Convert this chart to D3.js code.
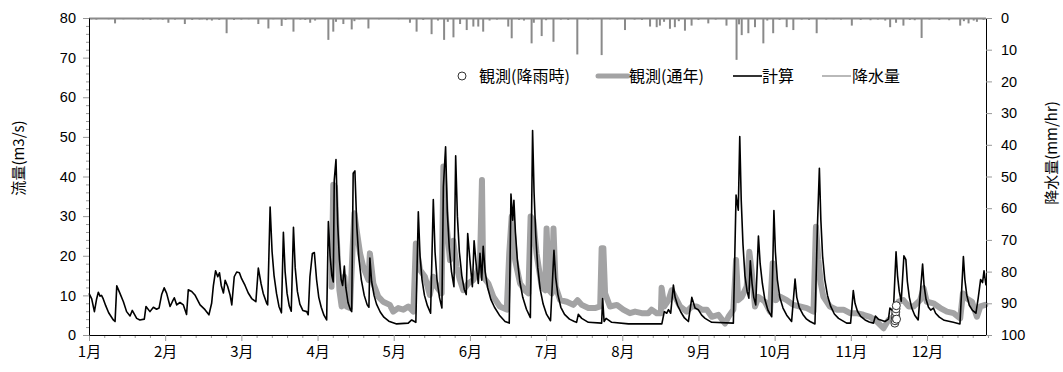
<!DOCTYPE html>
<html><head><meta charset="utf-8">
<script src="https://cdn.jsdelivr.net/npm/d3@7"></script>
<style>
html,body{margin:0;padding:0;background:#fff;}
text{font-family:"Liberation Sans","Noto Sans CJK JP",sans-serif;}
.cjk{font-family:"Noto Sans CJK JP","Liberation Sans",sans-serif;}
</style></head>
<body><svg id="c" width="1063" height="372"></svg>
<script>
// ---- data (x = day of year) ----
const monthLabels = ["1月","2月","3月","4月","5月","6月","7月","8月","9月","10月","11月","12月"];
const monthTicks = [0,31,62,93,124,155,186,217,248,279,310,341];
const flowTicks = [0,10,20,30,40,50,60,70,80];
const rainTicks = [0,10,20,30,40,50,60,70,80,90,100];
const legendLabels = ["観測(降雨時)","観測(通年)","計算","降水量"];

const calc = [[0,10.5],[1.1,9.1],[2.2,5.9],[3.1,9.1],[3.8,10.8],[4.5,9.8],[5.1,10],[5.8,9.1],[6.8,7.4],[8,5.6],[9.9,3.8],[10.6,3.4],[11.3,12.4],[12.6,10.5],[14,8.4],[15.3,5.9],[16.7,4.8],[17.6,6.2],[19.4,4.2],[20.7,3.8],[22.5,4],[23.2,7.2],[24.8,5.9],[26.2,7],[27.5,6.5],[28.5,6.8],[29.6,10.3],[30.6,11.9],[31.6,10.5],[33,7.2],[33.9,8.4],[34.7,9.4],[35.7,7.6],[37,8.2],[38.4,7.6],[39.7,5.2],[40.4,11.4],[41.8,11],[43.1,10.1],[45.2,7.6],[47.2,6.4],[48.8,5.1],[49.9,8],[50.6,12.4],[51.5,16.2],[52.4,14.7],[53.1,15.7],[53.8,12.5],[54.7,10.6],[55.4,13.8],[56.4,12.3],[57.4,10.1],[58.1,7.6],[59.1,14.7],[60.1,15.9],[61.2,15.7],[62.1,14.2],[63.5,12.5],[64.8,10.6],[66.2,9.2],[67.9,8.4],[68.9,16.9],[70,13],[70.9,10.5],[72.3,8],[72.7,7.6],[73.7,32.3],[74.5,21],[75.3,15],[76.3,10.5],[77.3,7.2],[78.3,5.6],[79.1,25.9],[79.8,16],[80.6,10.5],[81.5,7.3],[82.3,6],[83.2,27.2],[83.9,17],[84.8,11],[85.8,7.8],[87,6.2],[88.6,5.9],[89.2,5.1],[89.9,14.7],[90.9,20.6],[91.7,20.8],[92.6,14],[93.5,9.5],[94.5,7],[95.6,5],[96.7,3.8],[97.4,28.6],[98.1,20],[98.8,15],[99.4,13.4],[99.8,39.1],[100.5,44.3],[101.2,28],[101.9,19],[102.6,14],[103.2,12.5],[103.9,17.4],[104.5,12],[105.4,8.2],[106.3,6.5],[106.9,5.9],[107.5,40.8],[108.2,41.4],[109,27],[109.8,19.5],[110.8,14],[112,10],[113.2,7.6],[113.9,7],[114.3,19.4],[115,13.5],[116,10],[117,7.8],[118.5,5.8],[120,4.5],[122,3.5],[125.2,2.8],[129.9,3],[131.3,3.8],[133,3.2],[134,31.1],[134.7,20],[135.5,14],[136.5,10],[137.7,7.4],[139,5.5],[140.1,34.2],[140.8,21],[141.6,14],[142.6,9.5],[143.6,6.8],[144.2,37.4],[145.1,47.5],[145.8,31],[146.6,22],[147.5,16],[148.5,12.2],[149.2,45.2],[149.9,30],[150.7,21],[151.7,15],[152.7,11.5],[153.5,10.2],[154.1,25.6],[155,18.9],[156,12.2],[156.7,23.8],[157.5,18.1],[158.4,13],[159.1,20.6],[159.8,13.8],[160.4,22.4],[161.2,16],[162.2,12],[163.5,9],[165,7],[167,5],[169.3,3.4],[171,3],[171.7,35.6],[172.4,29],[172.9,34],[173.5,26],[174.3,19],[175.3,13.5],[176.5,9.5],[178,6.5],[179.6,4.4],[180.5,51.6],[181.1,36],[181.8,25],[182.6,17],[183.6,11.5],[184.8,7.8],[186.2,5.2],[187.8,3.6],[189.2,21.4],[189.9,14.5],[190.8,10.2],[192,7],[193.5,5.2],[195.5,4],[197.5,3.4],[198.4,3.2],[199.1,5.2],[200.5,4.2],[203.2,3.2],[208.6,3],[209,9.2],[209.6,3.4],[210.4,4.2],[212.7,3.2],[219.5,2.8],[233.1,2.8],[234.1,5.9],[235.1,5.5],[235.8,6.4],[236.7,5.5],[237.8,12.6],[238.5,9.5],[239.5,7.5],[240.8,5.8],[242.3,4.3],[243.9,3.4],[245.3,9.5],[246.6,6.8],[247.9,6.4],[249.3,5],[250.7,4.2],[253.4,3.2],[262.2,3],[263.3,35.3],[264.2,31.5],[264.8,50.1],[265.4,34],[266.1,23],[266.9,15],[267.8,11],[268.5,9.3],[269.1,18.7],[269.8,13],[270.5,9.5],[271.3,7.6],[272.4,25],[273.1,18],[274,13],[275,9],[276.3,6.2],[277.8,4.6],[278.7,31.4],[279.3,21],[280.1,14],[281.1,9.5],[282.4,6.8],[283.9,5],[285.9,3.4],[287.3,14.1],[288,9.5],[289,7],[290.5,5.2],[292,4],[293.4,3.4],[295.4,2.8],[296.4,27.3],[297.2,42.1],[297.8,29],[298.5,20],[299.4,14],[300.5,10],[301.8,7.2],[303.3,5.3],[305,4.2],[308.3,3],[309.9,3],[311,11.2],[311.7,8],[312.7,6],[314,4.7],[315.8,3.8],[317.5,3.3],[319.2,3],[320,4.8],[321.2,4],[323.9,3.4],[325.3,4],[325.9,6.8],[327.3,5.9],[328.4,21],[329,15],[329.7,11],[330.5,8.5],[331.6,20],[332.4,19],[333,13.5],[333.8,9.5],[334.8,6.8],[336,5],[337.4,3.8],[339.2,17.9],[339.8,12.5],[340.6,9],[341.6,7],[342.5,6.3],[343.6,6.8],[344.5,5.5],[346,4.5],[348,3.7],[351.7,3.2],[354.4,2.8],[355.8,19.8],[356.4,14],[357.2,10],[358.2,7.5],[359.5,6.2],[360.9,5.5],[361.8,9.2],[362.8,14],[363.6,13.2],[364.2,16.2],[365,12.5]];

const obsYear = [[98.7,12.2],[99.4,37.9],[100.1,37.4],[100.8,24.8],[101.9,11.3],[102.8,7.2],[103.9,14.7],[104.8,7.2],[106.2,6.8],[107.3,22.3],[108,30.7],[108.9,26.5],[110.3,20.6],[111.6,17.2],[113.7,13.9],[114.3,20.6],[115.7,13],[117.7,9.7],[119.7,8.4],[122.4,7.6],[123.8,5.9],[125.8,6.8],[127.9,6.4],[129.9,7.2],[132,5.9],[133,23.1],[134.7,16.4],[136.7,14.7],[138.7,10.1],[140.1,14.7],[141.5,12.2],[143.5,10.5],[144.2,42.5],[145.3,29],[146.9,18.9],[148.2,23.8],[149.6,17.2],[150.9,13.9],[152.3,11.3],[154.3,13],[156.4,13.9],[157.7,15.5],[159.1,18.1],[159.9,39.1],[160.4,14.7],[162.5,13],[164.5,9.7],[167.2,7.2],[170,6.4],[171,20.6],[172,29.9],[173.4,18.9],[175.4,13],[177.4,11.3],[178.8,10.5],[179.7,29.9],[180.8,29],[182.1,20.6],[184.2,12.2],[185.6,11.3],[186.2,26.9],[187.2,11.3],[188.3,10.5],[189,26.9],[189.9,12.2],[191.7,8.8],[194.4,8.4],[197.1,7.6],[198.8,8.8],[200.5,7.6],[203.2,6.8],[205.9,6.8],[208,7.2],[208.6,21.9],[209.3,21.9],[210,10.5],[212,7.2],[214.8,7.6],[217.4,6.4],[220.1,5.5],[222.2,5.9],[224.9,5.5],[227.6,5.5],[228.9,6.4],[231,5.5],[232.7,5.5],[233,11.9],[234.1,7.2],[235.8,8.8],[237.1,11.3],[238.5,9.6],[240.5,7.2],[243.2,5.9],[245.3,7.2],[247.3,7.2],[249.3,6.4],[251.4,6.4],[253.4,4.6],[256.1,5.1],[258.8,2.9],[260.2,4.6],[262.2,6.4],[263.3,18.9],[264.2,8.8],[265.6,9.6],[267.6,12.2],[268.7,21],[269.6,16.4],[271,7.2],[272.4,9.6],[275,8.4],[277.1,5.9],[278.2,18.1],[279.5,8.8],[281.2,9.7],[283.9,8.8],[286.6,7.6],[289.3,7.2],[292.1,6.8],[294.8,5.9],[295.8,27.3],[296.8,19],[297.8,13],[298.8,9.7],[301.5,7.2],[304.2,6.4],[307,6.4],[309.7,5.5],[312.4,5.5],[315.1,5.1],[317.8,4.6],[320.6,3.4],[323.3,1.7],[325.3,3.8],[327.4,4.6],[329.4,8.4],[331.4,8.8],[333.5,7.2],[335.5,7.2],[338.2,8.8],[339.6,11.8],[340.9,8.4],[343.6,8],[346.4,6.8],[349.1,5.9],[351.8,5.5],[354.5,4.2],[355.6,10.5],[357.2,9.2],[359.3,8.4],[361.3,4.6],[362.7,7.2],[364.7,7.6]];

const obsRain = [[327.9,3.0],[328.0,3.6],[328.1,4.3],[328.2,5.1],[328.3,5.8],[328.4,6.6],[328.5,7.4],[328.6,4.0]];

const rain = [[1,0.4],[2,0.3],[3,0.5],[6,0.3],[8,0.4],[10.6,1.7],[12,0.3],[14,0.4],[16,0.3],[18,0.3],[20,0.4],[22,0.5],[25,0.6],[27,0.3],[28,0.4],[30,0.5],[32.3,1.5],[35,0.5],[37,0.3],[39,1.9],[42,0.6],[45,0.5],[46,0.4],[48,0.7],[50,0.8],[53,0.6],[56,4.8],[59,0.6],[62,0.5],[65,0.4],[68.9,1.9],[73,3.3],[75,0.4],[78.4,2.5],[80,0.6],[83.2,4.3],[86,0.5],[88,0.6],[90,1.5],[92,0.8],[97.4,6.9],[99.4,4.3],[100.5,1.2],[103.5,1.9],[106.9,3.6],[108,1.0],[110,0.4],[113.7,3.3],[118,0.4],[122,0.3],[126,0.4],[130.6,1.5],[133.3,4.3],[136,0.6],[139.4,5.1],[142,0.8],[144.5,6.9],[146,1.2],[148.3,6.1],[151,1.9],[153.7,3.8],[156.4,2.7],[158.4,2.7],[160.4,4.3],[163,0.8],[166,0.5],[170.6,2.7],[172,6.4],[175,0.6],[177,0.8],[180.1,8],[181,1.5],[184.2,5.7],[186,0.7],[189,7.5],[192,0.5],[195,0.6],[198.7,11.5],[203,0.5],[205,0.4],[208.6,11.7],[212,0.4],[215,0.5],[218.1,3.8],[222,0.5],[225,0.6],[228.3,2.7],[231,2.9],[232.3,2.4],[234,1.2],[236.4,3.4],[238.4,2.9],[240,1.0],[242.5,4],[245.2,2.4],[248,0.6],[252,1.7],[255,0.5],[259.4,2.4],[263.5,13.2],[264.5,2.0],[265.6,5.4],[268.3,4.8],[271,2.9],[274.4,8],[276,0.8],[278.4,4.8],[281,0.6],[283.9,2.9],[286.6,3.8],[290,0.5],[293,0.6],[296.1,4.8],[300,0.5],[303,0.4],[306,0.5],[310.4,2.4],[314,0.6],[318,0.7],[321,0.5],[324,0.8],[326,2.9],[328.4,1.5],[331.4,2.4],[334,0.6],[336,0.7],[338.8,6.3],[342,0.5],[346,0.6],[350,0.7],[354.5,2.4],[356,1],[357.9,1.7],[360,0.8],[361.3,1.2],[364,0.6]];

// ---- drawing ----
const svg = d3.select("#c");
const L = 89, R = 986, T = 18, B = 335;
const x = d3.scaleLinear().domain([0,365]).range([L,R]);
const y = d3.scaleLinear().domain([0,80]).range([B,T]);
const yR = d3.scaleLinear().domain([0,100]).range([T,B]);

const gray = "#a3a3a4", rainC = "#8a8a8a";

// rain
svg.append("g").selectAll("rect").data(rain).join("rect")
  .attr("x", d => x(d[0]) - 1).attr("width", 2)
  .attr("y", yR(0)).attr("height", d => yR(d[1]) - yR(0))
  .attr("fill", rainC);
svg.append("line").attr("x1", L).attr("x2", R).attr("y1", yR(0)+0.5).attr("y2", yR(0)+0.5)
  .attr("stroke", rainC).attr("stroke-width", 2);

// observed (yearly)
const line = d3.line().x(d => x(d[0])).y(d => y(d[1]));
svg.append("path").datum(obsYear).attr("d", line).attr("fill","none")
  .attr("stroke", gray).attr("stroke-width", 6).attr("stroke-linejoin","round").attr("stroke-linecap","round");
// computed
svg.append("path").datum(calc).attr("d", line).attr("fill","none")
  .attr("stroke", "#000").attr("stroke-width", 1.6).attr("stroke-linejoin","round");
// observed at rain
svg.append("g").selectAll("circle").data(obsRain).join("circle")
  .attr("cx", d => x(d[0])).attr("cy", d => y(d[1])).attr("r", 4)
  .attr("fill", "#fff").attr("stroke", "#333").attr("stroke-width", 1);

// axes
const minorX = d3.range(0, 366, 6.2).filter(v => monthTicks.every(m => Math.abs(m - v) > 0.5));
svg.append("g").attr("transform", `translate(0,${B})`)
  .call(d3.axisBottom(x).tickValues(minorX).tickSize(3).tickFormat(""))
  .call(g => g.select(".domain").remove())
  .call(g => g.selectAll("line").attr("stroke","#999"));
const xa = svg.append("g").attr("transform", `translate(0,${B})`)
  .call(d3.axisBottom(x).tickValues(monthTicks).tickSize(6).tickSizeOuter(0).tickPadding(5)
    .tickFormat((d,i) => monthLabels[i]));
xa.selectAll("text").attr("class","cjk").attr("font-size", 15).attr("fill","#000");
xa.selectAll("line").attr("stroke","#999");
xa.select(".domain").attr("stroke","#000");

svg.append("g").attr("transform", `translate(${L},0)`)
  .call(d3.axisLeft(y).tickValues(d3.range(0, 81, 2).filter(v => v % 10)).tickSize(3).tickFormat(""))
  .call(g => g.select(".domain").remove())
  .call(g => g.selectAll("line").attr("stroke","#999"));
const ya = svg.append("g").attr("transform", `translate(${L},0)`)
  .call(d3.axisLeft(y).tickValues(flowTicks).tickSize(6).tickSizeOuter(0).tickPadding(7));
ya.selectAll("text").attr("font-size", 14.5).attr("fill","#000");
ya.selectAll("line").attr("stroke","#999");
ya.select(".domain").attr("stroke","#000");

const ra = svg.append("g").attr("transform", `translate(${R},0)`)
  .call(d3.axisRight(yR).tickValues(rainTicks).tickSize(6).tickSizeOuter(0).tickPadding(9));
ra.selectAll("text").attr("font-size", 14.5).attr("fill","#000");
ra.selectAll("line").attr("stroke","#999");
ra.select(".domain").attr("stroke","#000");

// axis titles
svg.append("text").attr("class","cjk").attr("transform","translate(24,158) rotate(-90)")
  .attr("text-anchor","middle").attr("font-size",15).text("流量(m3/s)");
svg.append("text").attr("class","cjk").attr("transform","translate(1057,153) rotate(-90)")
  .attr("text-anchor","middle").attr("font-size",15).text("降水量(mm/hr)");

// legend
const ly = 76;
const lg = svg.append("g");
lg.append("circle").attr("cx", 462).attr("cy", ly).attr("r", 4).attr("fill","#fff").attr("stroke","#333");
lg.append("text").attr("class","cjk").attr("x", 479).attr("y", ly).attr("dy","0.36em").attr("font-size",16).text(legendLabels[0]);
lg.append("line").attr("x1",598).attr("x2",628).attr("y1",ly).attr("y2",ly).attr("stroke",gray).attr("stroke-width",5).attr("stroke-linecap","round");
lg.append("text").attr("class","cjk").attr("x", 629).attr("y", ly).attr("dy","0.36em").attr("font-size",16).text(legendLabels[1]);
lg.append("line").attr("x1",733).attr("x2",762).attr("y1",ly).attr("y2",ly).attr("stroke","#000").attr("stroke-width",1.6);
lg.append("text").attr("class","cjk").attr("x", 762).attr("y", ly).attr("dy","0.36em").attr("font-size",16).text(legendLabels[2]);
lg.append("line").attr("x1",822).attr("x2",851).attr("y1",ly).attr("y2",ly).attr("stroke",rainC).attr("stroke-width",1.2);
lg.append("text").attr("class","cjk").attr("x", 852).attr("y", ly).attr("dy","0.36em").attr("font-size",16).text(legendLabels[3]);
</script></body></html>
